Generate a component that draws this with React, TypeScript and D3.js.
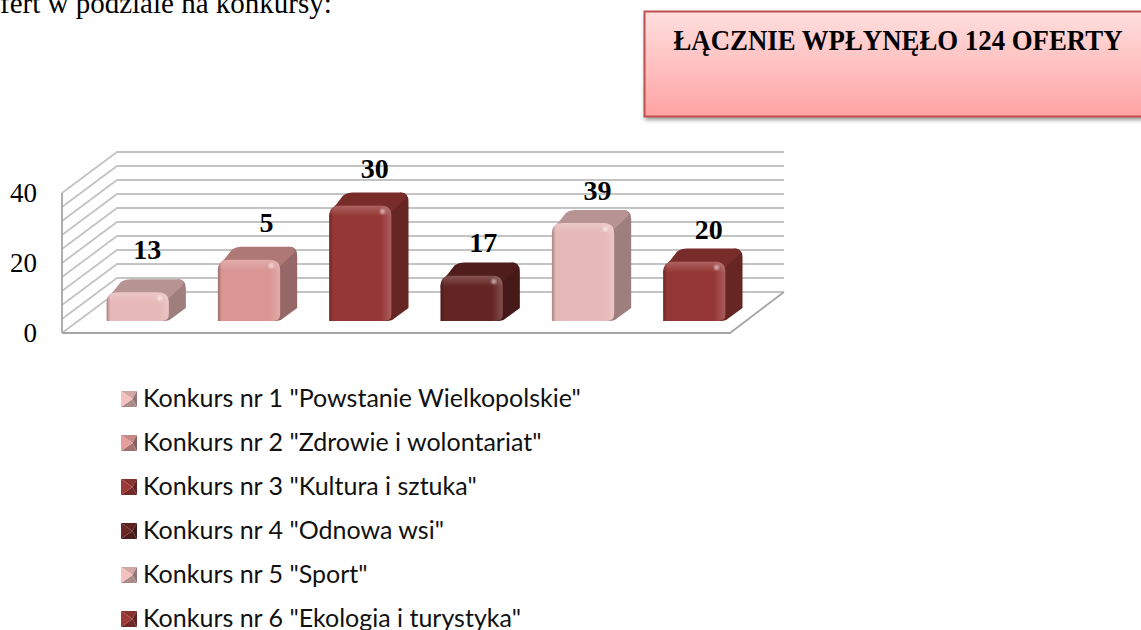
// App.tsx
import React, { useEffect, useRef } from 'react';
import * as d3 from 'd3';

const categories = [
  'Konkurs nr 1 "Powstanie Wielkopolskie"',
  'Konkurs nr 2 "Zdrowie i wolontariat"',
  'Konkurs nr 3 "Kultura i sztuka"',
  'Konkurs nr 4 "Odnowa wsi"',
  'Konkurs nr 5 "Sport"',
  'Konkurs nr 6 "Ekologia i turystyka"',
];
// bar heights as read against the axis; the printed labels do not agree with them
const barValues = [8.2, 17.5, 33, 13, 28, 17];
const printedLabels = ['13', '5', '30', '17', '39', '20'];
const axisTicks = [0, 20, 40];
const gridTicks = [0, 4, 8, 12, 16, 20, 24, 28, 32, 36, 40];

const fronts = ['#e6b8b7', '#d99694', '#953735', '#632523', '#e6b8b7', '#953735'];

const App = () => {
  const svgRef = useRef<SVGSVGElement>(null);

  useEffect(() => {
    const svg = d3.select(svgRef.current);
    svg.selectAll('*').remove(); // Clear previous content

    const width = 1141;
    const left = 62;
    const right = 730;
    const depthX = 55;
    const depthY = 41;
    const barDepthX = 17;
    const barDepthY = 13;
    const baseShiftX = 20;
    const baseShiftY = 12;

    const yScale = d3.scaleLinear().domain([0, 40]).range([333, 193]);
    const xScale = d3.scaleBand<number>()
      .domain(d3.range(categories.length))
      .range([left + baseShiftX, right + baseShiftX])
      .paddingInner(0.44)
      .paddingOuter(0.22);

    const defs = svg.append('defs');

    // text above the chart, cut by the top of the page
    svg.append('text')
      .attr('x', 0)
      .attr('y', 13)
      .attr('font-family', '"Liberation Serif", serif')
      .attr('font-size', 29)
      .text('fert w podziale na konkursy:');

    // callout box
    const boxGrad = defs.append('linearGradient')
      .attr('id', 'boxGrad').attr('x1', 0).attr('y1', 0).attr('x2', 0).attr('y2', 1);
    boxGrad.append('stop').attr('offset', '0%').attr('stop-color', '#ffdfdf');
    boxGrad.append('stop').attr('offset', '100%').attr('stop-color', '#ffa3a3');
    const blur = defs.append('filter').attr('id', 'boxBlur')
      .attr('x', '-5%').attr('y', '-20%').attr('width', '110%').attr('height', '140%');
    blur.append('feGaussianBlur').attr('stdDeviation', 2);

    svg.append('rect')
      .attr('x', 645).attr('y', 15).attr('width', width).attr('height', 105)
      .attr('fill', '#999').attr('filter', 'url(#boxBlur)');
    svg.append('rect')
      .attr('x', 644.5).attr('y', 11.5).attr('width', width).attr('height', 105)
      .attr('fill', 'url(#boxGrad)').attr('stroke', '#c0504d').attr('stroke-width', 2);
    svg.append('text')
      .attr('x', 898).attr('y', 50)
      .attr('text-anchor', 'middle')
      .attr('font-family', '"Liberation Serif", serif')
      .attr('font-weight', 'bold')
      .attr('font-size', 30)
      .attr('textLength', 449)
      .attr('lengthAdjust', 'spacingAndGlyphs')
      .text('ŁĄCZNIE WPŁYNĘŁO 124 OFERTY');

    // walls and floor
    const grid = svg.append('g').attr('fill', 'none').attr('stroke', '#c4c4c4').attr('stroke-width', 1.8);
    gridTicks.forEach(t => {
      const y = yScale(t);
      grid.append('path').attr('d', `M${left},${y}L${left + depthX},${y - depthY}L${right + depthX - 1},${y - depthY}`);
    });
    grid.append('path').attr('d', `M${left},${yScale(0)}V${yScale(40)}`).attr('stroke', '#a6a6a6');
    grid.append('path')
      .attr('d', `M${left},${yScale(0)}H${right}L${right + depthX - 1},${yScale(0) - depthY}`)
      .attr('stroke', '#a6a6a6');

    // axis labels
    svg.append('g').selectAll('text').data(axisTicks).enter().append('text')
      .attr('x', 37)
      .attr('y', t => yScale(t) + 9)
      .attr('text-anchor', 'end')
      .attr('font-family', '"Liberation Serif", serif')
      .attr('font-size', 27)
      .text(d => d);

    // shared bevel shading for the rounded bars
    const bevel = (id: string, x2: number, y2: number, c: string, from: number) => {
      const g = defs.append('linearGradient')
        .attr('id', id).attr('x1', 0).attr('y1', 0).attr('x2', x2).attr('y2', y2);
      g.append('stop').attr('offset', '0%').attr('stop-color', c).attr('stop-opacity', from);
      g.append('stop').attr('offset', '100%').attr('stop-color', c).attr('stop-opacity', 0);
    };
    bevel('bevelTop', 0, 1, '#fff', 0.22);
    bevel('bevelLeft', 1, 0, '#000', 0.28);
    const rg = defs.append('linearGradient')
      .attr('id', 'bevelRight').attr('x1', 0).attr('y1', 0).attr('x2', 1).attr('y2', 0);
    rg.append('stop').attr('offset', '0%').attr('stop-color', '#fff').attr('stop-opacity', 0);
    rg.append('stop').attr('offset', '100%').attr('stop-color', '#fff').attr('stop-opacity', 0.2);
    const spot = defs.append('filter').attr('id', 'spot');
    spot.append('feGaussianBlur').attr('stdDeviation', 1.2);

    // bars
    const nudgeX = [1, 9, 6, 3, 6, 6];
    const nudgeY = [-20, -15, -15, -11, -10, -10];
    const w = xScale.bandwidth();
    const r = 11;

    categories.forEach((_, i) => {
      const base = fronts[i];
      const x0 = xScale(i) as number;
      const x1 = x0 + w;
      const yb = yScale(0) - baseShiftY;
      const yt = yScale(barValues[i]) - baseShiftY;
      const dark = d3.color(base)!.darker(0.62).formatHex();
      const darker = d3.color(base)!.darker(1.05).formatHex();
      const backY = yt - barDepthY;
      const backX = x1 + barDepthX;

      // side
      svg.append('path')
        .attr('d', `M${x1 - 6},${yt + 2}L${backX - 8},${backY}Q${backX},${backY} ${backX},${backY + 9}`
          + `V${yb - barDepthY}L${x1 + 2},${yb - 2}Q${x1},${yb} ${x1 - 7},${yb}Z`)
        .attr('fill', darker);
      // top
      svg.append('path')
        .attr('d', `M${x0},${yt + 12}Q${x0 + 1},${yt + 4} ${x0 + 7},${yt - 1}L${x0 + 14},${backY + 3}`
          + `Q${x0 + 18},${backY} ${x0 + 24},${backY}H${backX - 8}Q${backX - 1},${backY} ${backX - 3},${backY + 6}`
          + `L${x1 - 2},${yt + 8}Z`)
        .attr('fill', dark);

      // front, clipped so the bevels follow its rounded corners
      const frontPath = `M${x0},${yb}V${yt + r}Q${x0},${yt} ${x0 + r},${yt}H${x1 - r}Q${x1},${yt} ${x1},${yt + r}`
        + `V${yb - 7}Q${x1},${yb} ${x1 - 7},${yb}Z`;
      defs.append('clipPath').attr('id', `clip${i}`).append('path').attr('d', frontPath);
      svg.append('path').attr('d', frontPath).attr('fill', base);
      const shade = svg.append('g').attr('clip-path', `url(#clip${i})`);
      shade.append('rect').attr('x', x0).attr('y', yt).attr('width', w).attr('height', 11).attr('fill', 'url(#bevelTop)');
      shade.append('rect').attr('x', x1 - 11).attr('y', yt).attr('width', 11).attr('height', yb - yt).attr('fill', 'url(#bevelRight)');
      shade.append('rect').attr('x', x0).attr('y', yt).attr('width', 4).attr('height', yb - yt).attr('fill', 'url(#bevelLeft)');
      shade.append('circle').attr('cx', x1 - 9).attr('cy', yt + 6).attr('r', 2.5)
        .attr('fill', '#fff').attr('opacity', 0.55).attr('filter', 'url(#spot)');

      svg.append('text')
        .attr('x', (x0 + x1 + barDepthX) / 2 + nudgeX[i])
        .attr('y', backY + nudgeY[i])
        .attr('text-anchor', 'middle')
        .attr('font-family', '"Liberation Serif", serif')
        .attr('font-weight', 'bold')
        .attr('font-size', 28)
        .attr('fill', '#000')
        .text(printedLabels[i]);
    });

    // legend
    const legendY = d3.scalePoint<number>()
      .domain(d3.range(categories.length))
      .range([399, 619]);

    categories.forEach((name, i) => {
      const cy = legendY(i) as number;
      const x0 = 121;
      const s = 16;
      const y0 = cy - s / 2;
      const c = d3.color(fronts[i])!;
      const g = svg.append('g');
      const tri = (pts: number[][], fill: string) =>
        g.append('path').attr('d', d3.line()(pts as [number, number][]) + 'Z').attr('fill', fill);
      const mid = [x0 + s * 0.72, cy];
      tri([[x0, y0], [x0 + s, y0], mid], c.darker(0.25).formatHex());
      tri([[x0 + s, y0], [x0 + s, y0 + s], mid], c.darker(1.3).formatHex());
      tri([[x0, y0 + s], [x0 + s, y0 + s], mid], c.darker(0.8).formatHex());
      tri([[x0, y0], [x0, y0 + s], mid], c.brighter(0.15).formatHex());

      svg.append('text')
        .attr('x', 143)
        .attr('y', cy + 8)
        .attr('font-family', 'Lato, "Open Sans", sans-serif')
        .attr('font-size', 25)
        .attr('fill', '#111')
        .text(name);
    });
  }, []);

  return (
    <svg
      ref={svgRef}
      width={1141}
      height={630}
      style={{ position: 'absolute', left: 0, top: 0, background: '#fff' }}
    />
  );
};

export default App;
